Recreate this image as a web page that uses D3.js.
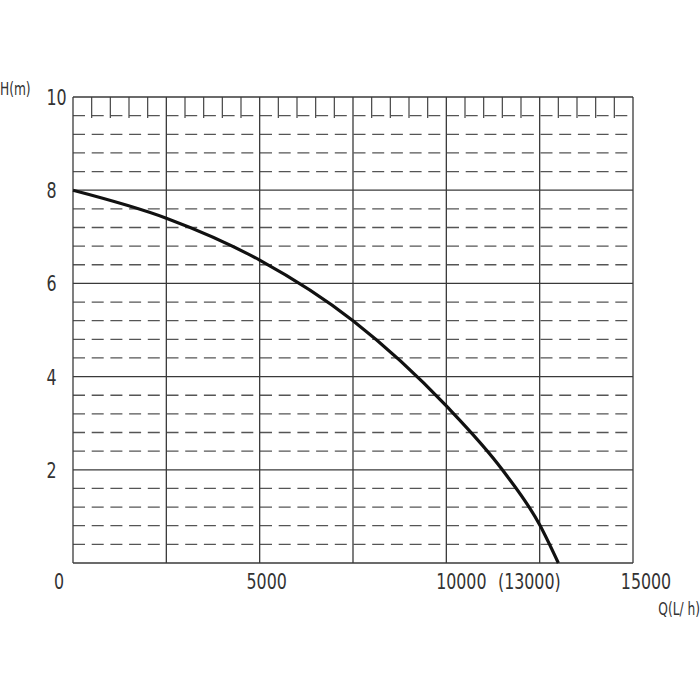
<!DOCTYPE html>
<html><head><meta charset="utf-8">
<script src="https://cdn.jsdelivr.net/npm/d3@7"></script>
<style>
html,body{margin:0;padding:0;background:#fff;}
text{font-family:"Liberation Sans Narrow","DejaVu Sans Condensed",sans-serif;fill:#333;}
</style></head>
<body><svg id="c" width="700" height="700"></svg>
<script>
// Data
const flowQ = [0, 2500, 5000, 7500, 10000, 11500, 12500, 13000];
const headH = [8.0, 7.4, 6.5, 5.2, 3.37, 2.0, 0.82, 0];
const xTickValues = [0, 5000, 10000, 13000, 15000];
const xTickLabels = ["0", "5000", "10000", "(13000)", "15000"];
const yTickValues = [2, 4, 6, 8, 10];
const yTickLabels = ["2", "4", "6", "8", "10"];
const xLabel = "Q(L/ h)";
const yLabel = "H(m)";

// Layout
const xLabelDx = [-14, 7, 15, -29, 13];
const svg = d3.select("#c");
const x = d3.scaleLinear().domain([0, 15000]).range([73, 633]);
const y = d3.scaleLinear().domain([0, 10]).range([563, 97]);

const g = svg.append("g");
// dashed horizontals every 0.4 m
const dashVals = d3.range(0.4, 10, 0.4).map(v => +v.toFixed(1)).filter(v => Math.abs(v/2 - Math.round(v/2)) > 1e-6);
g.selectAll("line.dash").data(dashVals).enter().append("line")
  .attr("x1", x(0)).attr("x2", x(15000))
  .attr("y1", d => y(d)).attr("y2", d => y(d))
  .attr("stroke", "#555").attr("stroke-width", 1.3)
  .attr("stroke-dasharray", "12,6.7");
// short ticks at top every 500
const shortTicks = d3.range(500, 15000, 500).filter(v => v % 2500 !== 0);
g.selectAll("line.st").data(shortTicks).enter().append("line")
  .attr("x1", d => x(d)).attr("x2", d => x(d))
  .attr("y1", y(10)).attr("y2", y(9.55))
  .attr("stroke", "#444").attr("stroke-width", 1.2);
// solid grid
const vLines = d3.range(0, 15001, 2500);
g.selectAll("line.v").data(vLines).enter().append("line")
  .attr("x1", d => x(d)).attr("x2", d => x(d))
  .attr("y1", y(0)).attr("y2", y(10))
  .attr("stroke", "#3a3a3a").attr("stroke-width", 1.3);
const hLines = d3.range(0, 10.01, 2);
g.selectAll("line.h").data(hLines).enter().append("line")
  .attr("x1", x(0)).attr("x2", x(15000))
  .attr("y1", d => y(d)).attr("y2", d => y(d))
  .attr("stroke", "#3a3a3a").attr("stroke-width", 1.3);

// curve
const pts = flowQ.map((q, i) => [q, headH[i]]);
svg.append("path").datum(pts)
  .attr("fill", "none").attr("stroke", "#111").attr("stroke-width", 3.2)
  .attr("d", d3.line().x(d => x(d[0])).y(d => y(d[1])).curve(d3.curveMonotoneX));

// labels
const sx = 0.8;
yTickValues.forEach((v, i) => {
  svg.append("text").attr("transform", `translate(46.5,${y(v)}) scale(${sx},1)`)
    .attr("dy", "0.36em").attr("font-size", 22).text(yTickLabels[i]);
});
xTickValues.forEach((v, i) => {
  svg.append("text").attr("transform", `translate(${x(v) + xLabelDx[i]},589) scale(${sx},1)`)
    .attr("text-anchor", "middle").attr("font-size", 22).text(xTickLabels[i]);
});
svg.append("text").attr("transform", `translate(0,95) scale(${sx},1)`)
  .attr("font-size", 17).text(yLabel);
svg.append("text").attr("transform", `translate(700,615) scale(${sx},1)`)
  .attr("text-anchor", "end").attr("font-size", 17).text(xLabel);
</script></body></html>
